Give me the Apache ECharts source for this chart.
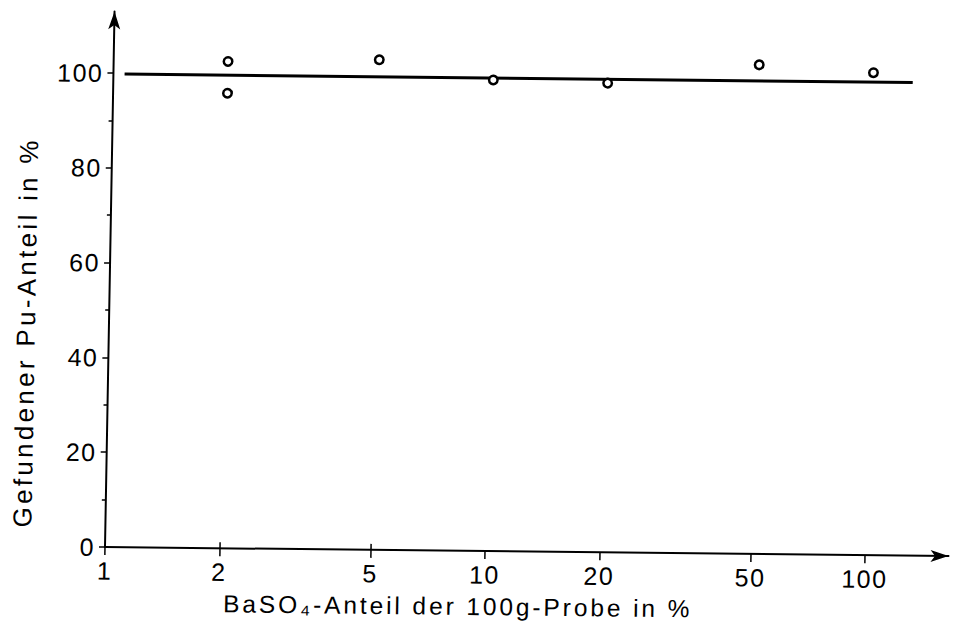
<!DOCTYPE html>
<html>
<head>
<meta charset="utf-8">
<script src="https://cdn.jsdelivr.net/npm/echarts@6/dist/echarts.min.js"></script>
<style>
  html, body { margin: 0; padding: 0; background: #fff; overflow: hidden; }
  #chart {
    width: 953px; height: 637px;
    /* slight skew of the scanned sheet */
    transform: matrix(1, 0.0108, -0.0178, 1, 0, 0);
    transform-origin: 105px 547px;
  }
  /* wide tracking of the lettering */
  #chart text[style*="24.5px"] { letter-spacing: 2.9px; }
  #chart text[style*="26px"] { letter-spacing: 3.3px; }
  #chart text[style*="25px"] { letter-spacing: 1.5px; }
</style>
</head>
<body>
<div id="chart"></div>
<script>
// BaSO4 share of the 100 g sample (%), log scale
const xTickValues = [1, 2, 5, 10, 20, 50, 100];
const xInnerTicks = [2, 5];
// recovered Pu share (%)
const yTickValues = [0, 20, 40, 60, 80, 100];
const yMinorTicks = [10, 30, 50, 70, 90];

// measured points
const baso4Share = [2, 2, 5, 10, 20, 50, 100];
const puFound = [102.7, 96.0, 103.4, 99.4, 99.0, 103.2, 101.8];

// mean line
const meanX = [1.07, 127];
const meanY = [99.8, 99.8];

const ink = '#000';
const font = 'Liberation Sans, Arial, Helvetica, sans-serif';
const X_MAX = 166;
const Y_MAX = 113;

const chart = echarts.init(document.getElementById('chart'), null, { renderer: 'svg' });

chart.setOption({
  animation: false,
  backgroundColor: '#fff',
  grid: { left: 105, right: 4.5, top: 11.4, bottom: 90, containLabel: false },
  xAxis: [
    {
      type: 'log', logBase: 10, min: 1, max: X_MAX,
      axisLine: {
        show: true, symbol: ['none', 'arrow'], symbolSize: [9, 18],
        lineStyle: { color: ink, width: 2 }
      },
      axisTick: { show: true, inside: false, length: 8, customValues: xTickValues,
                  lineStyle: { color: ink, width: 1.5 } },
      minorTick: { show: false },
      splitLine: { show: false },
      axisLabel: { show: true, customValues: xTickValues, margin: 11,
                   color: ink, fontSize: 25, fontFamily: font },
      name: 'BaSO\u2084-Anteil der 100g-Probe in %',
      nameLocation: 'middle', nameGap: 43,
      nameTextStyle: { color: ink, fontSize: 24.5, fontFamily: font, padding: [0, 136, 0, 0] }
    },
    {
      type: 'log', logBase: 10, min: 1, max: X_MAX, position: 'bottom',
      axisLine: { show: false },
      axisTick: { show: true, inside: true, length: 6, customValues: xInnerTicks,
                  lineStyle: { color: ink, width: 1.5 } },
      axisLabel: { show: false },
      splitLine: { show: false }
    }
  ],
  yAxis: [
    {
      type: 'value', min: 0, max: Y_MAX, interval: 20,
      axisLine: {
        show: true, symbol: ['none', 'arrow'], symbolSize: [9, 18],
        lineStyle: { color: ink, width: 2 }
      },
      axisTick: { show: true, inside: false, length: 6, customValues: yTickValues,
                  lineStyle: { color: ink, width: 1.5 } },
      splitLine: { show: false },
      axisLabel: { show: true, customValues: yTickValues, margin: 10,
                   color: ink, fontSize: 25, fontFamily: font },
      name: 'Gefundener Pu-Anteil in %',
      nameLocation: 'middle', nameGap: 70,
      nameTextStyle: { color: ink, fontSize: 26, fontFamily: font, padding: [0, 108, 0, 0] }
    },
    {
      type: 'value', min: 0, max: Y_MAX, interval: 20, position: 'left',
      axisLine: { show: false },
      axisTick: { show: true, inside: false, length: 4, customValues: yMinorTicks,
                  lineStyle: { color: ink, width: 1.5 } },
      axisLabel: { show: false },
      splitLine: { show: false }
    }
  ],
  series: [
    {
      type: 'line',
      xAxisIndex: 0, yAxisIndex: 0,
      data: meanX.map((x, i) => [x, meanY[i]]),
      symbol: 'none',
      lineStyle: { color: ink, width: 3 },
      z: 2
    },
    {
      type: 'scatter',
      xAxisIndex: 0, yAxisIndex: 0,
      data: baso4Share.map((x, i) => [x, puFound[i]]),
      symbol: 'circle', symbolSize: 8.5,
      itemStyle: { color: '#fff', borderColor: ink, borderWidth: 2.5, opacity: 1 },
      z: 3
    }
  ]
});
</script>
</body>
</html>
